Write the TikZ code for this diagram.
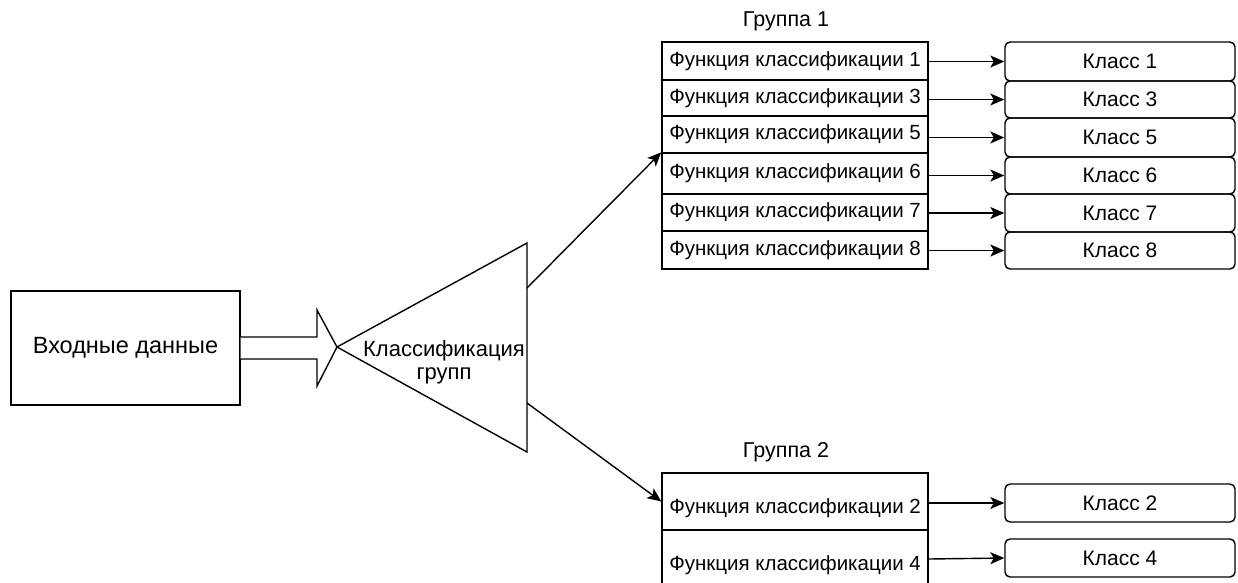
\documentclass[tikz,border=0pt]{standalone}
\usepackage{fontspec}
\setmainfont{Liberation Sans}
\usetikzlibrary{arrows.meta}
\begin{document}
\begin{tikzpicture}[x=1pt,y=-1pt,
  ln/.style={line width=1.4pt},
  ffont/.style={font=\fontsize{20.5}{23}\selectfont},
  fbox/.style={ln, draw, minimum width=266pt, inner sep=0pt, ffont},
  cbox/.style={ln, draw, rounded corners=5pt, minimum width=230pt, inner sep=0pt, font=\fontsize{21}{23}\selectfont},
  txt/.style={inner sep=0pt, ffont},
  conn/.style={ln, -{Stealth[length=14pt,width=12pt,inset=3.5pt]}}]
\useasboundingbox (0,0) rectangle (1238,582);
% input
\node[ln, draw, minimum width=229pt, minimum height=114pt, inner sep=0pt,
  font=\fontsize{23.5}{26}\selectfont] (in) at (125.5,348) {Входные данные};
% block arrow
\coordinate (tip) at (337,347);
\draw[ln, fill=white] (in.east |- 0,337) -- (317,337) -- (317,310) -- (tip)
  -- (317,386) -- (317,359) -- (in.east |- 0,359);
% triangle
\coordinate (ttop) at (527,243);
\coordinate (tbot) at (527,452);
\draw[ln] (tip) -- (ttop) -- (tbot) -- cycle;
\node[inner sep=0pt, align=center, font=\fontsize{22}{23}\selectfont] (cls) at (444,362) {Классификация\\групп};
\coordinate (t1) at (527,288);
\coordinate (t2) at (527,403);
% group 1
\node[txt, font=\fontsize{21.5}{23}\selectfont] (g1) at (786,21) {Группа 1};
\node[fbox, minimum height=38pt] (f1) at (795,61) {Функция классификации 1};
\node[fbox, minimum height=36pt] (f3) at (795,98) {Функция классификации 3};
\node[fbox, minimum height=37pt] (f5) at (795,134.5) {Функция классификации 5};
\node[fbox, minimum height=41pt] (f6) at (795,173.5) {Функция классификации 6};
\node[fbox, minimum height=37pt] (f7) at (795,212.5) {Функция классификации 7};
\node[fbox, minimum height=38pt] (f8) at (795,250) {Функция классификации 8};
\node[cbox, minimum height=39pt] (c1) at (1120,61.5) {Класс 1};
\node[cbox, minimum height=37pt] (c3) at (1120,99.5) {Класс 3};
\node[cbox, minimum height=39pt] (c5) at (1120,137.5) {Класс 5};
\node[cbox, minimum height=37pt] (c6) at (1120,175.5) {Класс 6};
\node[cbox, minimum height=38pt] (c7) at (1120,213) {Класс 7};
\node[cbox, minimum height=37pt] (c8) at (1120,250.5) {Класс 8};
\foreach \a/\b in {f1/c1,f3/c3,f5/c5,f6/c6,f7/c7,f8/c8}
  \draw[conn] (\a.east |- \b.west) -- (\b.west);
% group 2
\node[txt, font=\fontsize{21.5}{23}\selectfont] (g2) at (786,452) {Группа 2};
\node[fbox, minimum height=57pt] (f2) at (795,501.5) {};
\node[fbox, minimum height=57pt] (f4) at (795,558.5) {};
\node[txt] (f2t) at (795,508) {Функция классификации 2};
\node[txt] (f4t) at (795,565) {Функция классификации 4};
\node[cbox, minimum height=38pt] (c2) at (1120,503) {Класс 2};
\node[cbox, minimum height=38pt] (c4) at (1120,558) {Класс 4};
\draw[conn] (f2.east |- c2.west) -- (c2.west);
\draw[conn] (f4.east |- 0,559) -- (c4.west);
% triangle outputs
\draw[conn] (t1) -- (f6.north west);
\draw[conn] (t2) -- (f2.west);
\end{tikzpicture}
\end{document}
